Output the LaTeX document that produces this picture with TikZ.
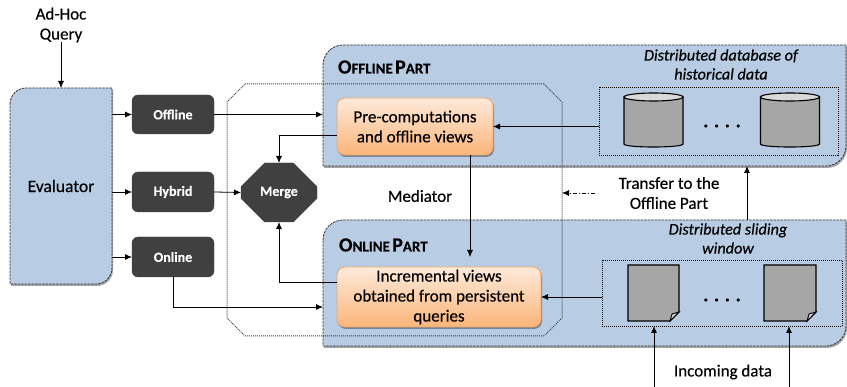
\documentclass[tikz,border=0pt]{standalone}
\usepackage{fontspec}
\setmainfont[FakeBold=0.35]{Carlito}
\usetikzlibrary{arrows.meta,shapes.geometric,shapes.misc,shadows}
\definecolor{partblue}{HTML}{B8CCE4}
\definecolor{darkbox}{HTML}{404040}
\definecolor{peachtop}{HTML}{FDEADA}
\definecolor{peachlow}{HTML}{FBB57A}
\definecolor{peachline}{HTML}{F0A564}
\definecolor{storegray}{HTML}{A6A6A6}
\definecolor{storetop}{HTML}{D9D9D9}
\tikzset{
    every node/.style={inner sep=0pt,outer sep=0pt,align=center,font=\fontsize{17}{20}\selectfont},
    softshadow/.style={drop shadow={shadow xshift=1pt,shadow yshift=-2pt,opacity=.35,fill=black}},
    frame/.style={draw=none},
    bluepart/.style={draw=black!80,line width=.8pt,fill=partblue,dash pattern=on 2.5pt off 1pt,softshadow},
    darkbox/.style={draw=black!75,fill=darkbox,rounded corners=6pt,text=white,font=\fontsize{14}{18}\selectfont\bfseries},
    viewbox/.style={draw=peachline,line width=.8pt,rounded corners=8pt,top color=peachtop,bottom color=peachlow,softshadow},
    dotbox/.style={draw=black,dash pattern=on 1pt off 1pt,line width=.8pt},
    medline/.style={draw=black!75,dash pattern=on 1pt off 1pt,line width=1pt},
    link/.style={->,line width=.8pt},
    partname/.style={anchor=west,font=\bfseries},
    storetext/.style={font=\fontsize{16.2}{19}\selectfont\itshape},
    fourdots/.style={font=\fontsize{19}{22}\selectfont\bfseries},
    >={Latex[length=7pt,width=6pt]}
}
% blue box with two rounded corners
\newcommand{\roundpart}[2]{%
    \draw [bluepart] ([yshift=-#2pt]#1.north west) .. controls ([yshift=-#2*0.45pt]#1.north west) and ([xshift=#2*0.45pt]#1.north west) .. ([xshift=#2pt]#1.north west)
        -- (#1.north east) -- ([yshift=#2pt]#1.south east) .. controls ([yshift=#2*0.45pt]#1.south east) and ([xshift=-#2*0.45pt]#1.south east) .. ([xshift=-#2pt]#1.south east)
        -- (#1.south west) -- cycle;}
% outline with cut corners
\newcommand{\cutoutline}[2]{%
    \draw [medline] ([xshift=#2pt]#1.north west) -- ([xshift=-#2pt]#1.north east) -- ([yshift=-#2pt]#1.north east)
        -- ([yshift=#2pt]#1.south east) -- ([xshift=-#2pt]#1.south east) -- ([xshift=#2pt]#1.south west)
        -- ([yshift=#2pt]#1.south west) -- ([yshift=-#2pt]#1.north west) -- cycle;}
% drum for the database
\newcommand{\dbdrum}[1]{%
    \draw [line width=1.1pt,fill=storegray] ([yshift=-4pt]#1.north west) -- ([yshift=3pt]#1.south west)
        .. controls ([yshift=-1pt]#1.south west) and ([yshift=-1pt]#1.south east) .. ([yshift=3pt]#1.south east)
        -- ([yshift=-4pt]#1.north east) -- cycle;
    \draw [line width=1.1pt,fill=storetop] ([yshift=-4pt]#1.north) ellipse [x radius=29.5pt,y radius=4pt];}
% sheet with a folded corner
\newcommand{\foldsheet}[1]{%
    \draw [line width=1.2pt,fill=storegray] (#1.north west) -- (#1.north east) -- ([yshift=9pt]#1.south east)
        -- ([xshift=-9pt]#1.south east) -- (#1.south west) -- cycle;
    \draw [line width=.9pt,fill=storetop] ([yshift=9pt]#1.south east) -- ([xshift=-7pt,yshift=7pt]#1.south east) -- ([xshift=-9pt]#1.south east) -- cycle;}
\newcommand{\capsword}[2]{{\fontsize{20}{20}\selectfont #1}{\fontsize{15}{20}\selectfont #2}}
\begin{document}
\begin{tikzpicture}[x=1pt,y=-1pt]
    \useasboundingbox (0,0) rectangle (847,387);
    % the two parts and the evaluator
    \node [frame,minimum width=523pt,minimum height=121pt] (offpart) at (584.5,105.5) {};
    \node [frame,minimum width=523pt,minimum height=126pt] (onpart) at (584.5,283) {};
    \node [frame,minimum width=102pt,minimum height=196pt] (evalbox) at (61,186) {};
    \roundpart{offpart}{20}
    \roundpart{onpart}{20}
    \roundpart{evalbox}{16}
    \node [font=\fontsize{17.5}{20}\selectfont] (evallabel) at (61,186) {Evaluator};
    \node (query) at (61,25) {Ad-Hoc\\Query};
    \node [partname] (offname) at (338,67) {\capsword{O}{FFLINE} \capsword{P}{ART}};
    \node [partname] (onname) at (339,245) {\capsword{O}{NLINE} \capsword{P}{ART}};
    % mediator outline
    \node [frame,minimum width=335pt,minimum height=252pt] (mediator) at (394.5,210) {};
    \cutoutline{mediator}{18}
    \node (medlabel) at (420,196) {Mediator};
    % query kinds
    \node [darkbox,minimum width=82pt,minimum height=39pt] (offline) at (173,114.5) {Offline};
    \node [darkbox,minimum width=82pt,minimum height=40pt] (hybrid) at (173,192) {Hybrid};
    \node [darkbox,minimum width=82pt,minimum height=40pt] (online) at (173,257) {Online};
    \node [chamfered rectangle,chamfered rectangle xsep=17pt,chamfered rectangle ysep=18pt,draw=black!75,fill=darkbox,text=white,font=\fontsize{14}{18}\selectfont\bfseries,minimum width=76pt,minimum height=59pt] (merge) at (279,192.5) {Merge};
    % views
    \node [viewbox,minimum width=156pt,minimum height=57pt] (pre) at (415,126.5) {Pre-computations\\and offline views};
    \node [viewbox,minimum width=204pt,minimum height=60pt] (inc) at (439,297) {Incremental views\\obtained from persistent\\queries};
    % stores
    \node [dotbox,minimum width=239pt,minimum height=68pt] (dbrow) at (718.5,121) {};
    \node [dotbox,minimum width=240pt,minimum height=66pt] (winrow) at (722,293) {};
    \node [storetext] (dblabel) at (721,64.5) {Distributed database of\\historical data};
    \node [storetext] (winlabel) at (728,238.5) {Distributed sliding\\window};
    \node [minimum width=59pt,minimum height=54pt] (db1) at (653.5,120) {};
    \node [minimum width=59pt,minimum height=54pt] (db2) at (790,120) {};
    \dbdrum{db1}
    \dbdrum{db2}
    \node [fourdots] (dbdots) at (722,126) {. . . .};
    \node [minimum width=51pt,minimum height=56pt] (sheet1) at (653.5,293) {};
    \node [minimum width=52pt,minimum height=56pt] (sheet2) at (790,293) {};
    \foldsheet{sheet1}
    \foldsheet{sheet2}
    \node [fourdots] (windots) at (722,300) {. . . .};
    \node (transfer) at (669,193) {Transfer to the\\Offline Part};
    \node (incoming) at (723,372) {Incoming data};
    % free ends
    \coordinate (prelow) at (337,135);
    \coordinate (inclow) at (337,282);
    \coordinate (prebot) at (470,155);
    \coordinate (inctop) at (470,257);
    \coordinate (oninlet) at (323,307);
    \coordinate (xfer) at (747,220);
    \coordinate (feed1) at (654,387);
    \coordinate (feed2) at (789,387);
    \coordinate (drop) at (595,193);
    % connectors
    \draw [link] (query.south) -- (evalbox.north);
    \draw [link] (evalbox.east |- offline.west) -- (offline.west);
    \draw [link] (evalbox.east |- hybrid.west) -- (hybrid.west);
    \draw [link] (evalbox.east |- online.west) -- (online.west);
    \draw [link] (offline.east) -- (offline.east -| offpart.west);
    \draw [link] (hybrid.east) -- (merge.west);
    \draw [link] (online.south) |- (oninlet);
    \draw [link] (prelow) -| (merge.north);
    \draw [link] (inclow) -| (merge.south);
    \draw [link] (prebot) -- (inctop);
    \draw [link] (dbrow.west |- pre.east) -- (pre.east);
    \draw [link] (winrow.west |- inc.east) -- (inc.east);
    \draw [link] (xfer) -- (xfer |- offpart.south);
    \draw [link] (feed1) -- (feed1 |- winrow.south);
    \draw [link] (feed2) -- (feed2 |- winrow.south);
    \draw [link,dash pattern=on 4pt off 2pt on 1pt off 2pt] (drop) -- (drop -| mediator.east);
\end{tikzpicture}
\end{document}
